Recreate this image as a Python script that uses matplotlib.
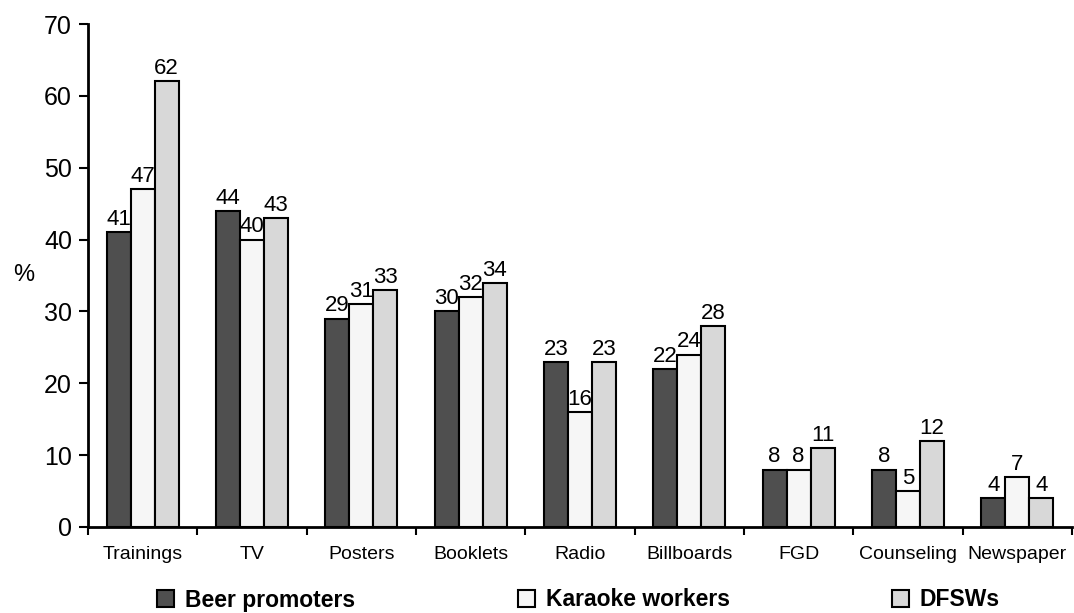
import matplotlib
matplotlib.use("Agg")
import matplotlib.pyplot as plt
import numpy as np
from matplotlib.patches import Patch

plt.rcParams['font.family'] = ['Liberation Sans', 'DejaVu Sans']

categories = ["Trainings", "TV", "Posters", "Booklets", "Radio",
              "Billboards", "FGD", "Counseling", "Newspaper"]
beer_promoters = [41, 44, 29, 30, 23, 22, 8, 8, 4]
karaoke_workers = [47, 40, 31, 32, 16, 24, 8, 5, 7]
dfsws = [62, 43, 33, 34, 23, 28, 11, 12, 4]
series_names = ["Beer promoters", "Karaoke workers", "DFSWs"]
colors = ["#4f4f4f", "#f6f6f6", "#d8d8d8"]

W, H = 1074, 613
fig = plt.figure(figsize=(W / 100, H / 100), dpi=100)
ax = fig.add_axes([88 / W, 1 - 527 / H, 984 / W, 503 / H])

x = np.arange(len(categories)) + 0.5
w = 0.22
for k, (vals, col) in enumerate(zip([beer_promoters, karaoke_workers, dfsws], colors)):
    pos = x + (k - 1) * w
    ax.bar(pos, vals, width=w, color=col, edgecolor="black", linewidth=1.5, zorder=2)
    for px, v in zip(pos, vals):
        ax.text(px, v + 0.3, f"{v}", ha="center", va="bottom", fontsize=16)

ax.set_xlim(0, len(categories))
ax.set_ylim(0, 70)
ax.set_yticks(range(0, 71, 10))
ax.tick_params(axis="y", labelsize=18, length=6.5, width=1.5, direction="out", pad=5)
ax.set_xticks(np.arange(len(categories) + 1))
ax.set_xticklabels([])
ax.tick_params(axis="x", length=6, width=1.5, direction="out")
ax.set_xticks(x, minor=True)
ax.set_xticklabels(categories, minor=True, fontsize=14)
ax.tick_params(axis="x", which="minor", length=0, pad=14)

for s in ["top", "right"]:
    ax.spines[s].set_visible(False)
for s in ["left", "bottom"]:
    ax.spines[s].set_linewidth(2)

ax.set_ylabel("%", rotation=0, fontsize=17, ha="center", va="center")
ax.yaxis.set_label_coords((24 - 88) / 984, (527 - 275) / 503)

# one legend entry per series, spread along the bottom
legend_x = [157, 518, 892]
for name, col, lx in zip(series_names, colors, legend_x):
    fig.legend([Patch(facecolor=col, edgecolor="black", linewidth=1.5)], [name],
               loc="center left", bbox_to_anchor=(lx / W, 1 - 600 / H),
               frameon=False, prop={"weight": "bold", "size": 16.5},
               handlelength=0.72, handleheight=0.72, handletextpad=0.5,
               borderpad=0, borderaxespad=0)

fig.savefig("out.png", dpi=100)
